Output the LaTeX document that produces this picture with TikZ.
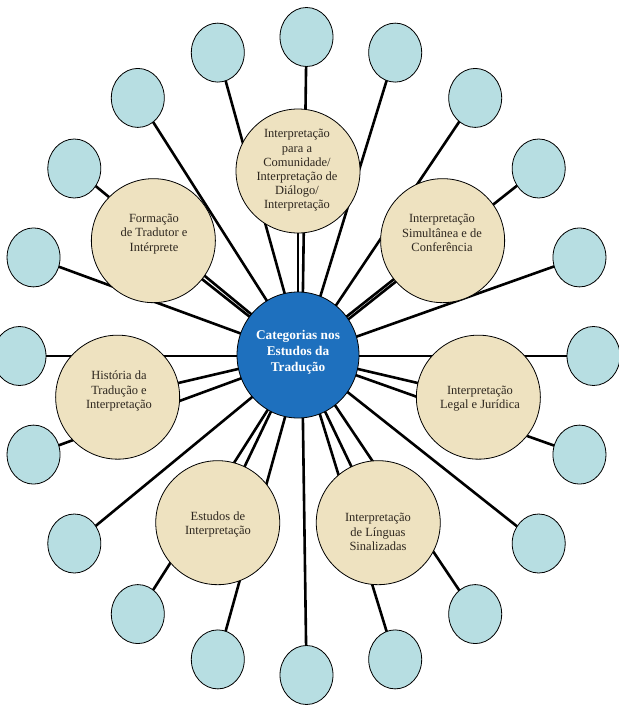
\documentclass[tikz,border=0pt]{standalone}
\usepackage{fontspec}
\setmainfont{Liberation Serif}
\usetikzlibrary{backgrounds,shapes.geometric}
\definecolor{hubblue}{RGB}{30,112,190}
\definecolor{leafblue}{RGB}{183,222,226}
\definecolor{parch}{RGB}{238,226,192}
\definecolor{inkc}{RGB}{45,38,30}
\tikzset{
  leaf/.style={ellipse, draw=black, line width=0.8pt, fill=leafblue, minimum width=53pt, minimum height=59pt, inner sep=0pt},
  cat/.style={circle, draw=black, line width=0.8pt, fill=parch, minimum size=124pt, inner sep=0pt},
  hubnode/.style={ellipse, draw=black, line width=0.8pt, fill=hubblue, minimum width=122pt, minimum height=126pt, inner sep=0pt},
  cattext/.style={align=center, font=\fontsize{12.5}{14.2}\selectfont, text=inkc, inner sep=0pt},
  hubtext/.style={align=center, font=\fontsize{13.3}{15.8}\selectfont\bfseries, text=white, inner sep=0pt},
  spoke/.style={line width=2.6pt, draw=black},
}
\begin{document}
\begin{tikzpicture}[x=1pt,y=-1pt]
\useasboundingbox (0,0) rectangle (618,706);
% hub of the small-circle spokes
\coordinate (hub) at (302,356);
% central circle
\node[hubnode] (center) at (298,355) {};
% small circles
\foreach \k in {0,...,19}{
  \pgfmathsetmacro{\a}{18*\k}
  \node[leaf] (s\k) at ({306.5+287*sin(\a)},{356-319*cos(\a)}) {};
}
% category circles
\foreach \k in {0,...,6}{
  \pgfmathsetmacro{\a}{90+\k*360/7}
  \node[cat] (c\k) at ({298+185*cos(\a)},{356-185*sin(\a)}) {};
}
% texts
\node[hubtext] (tc) at (298,352) {Categorias nos\\Estudos da\\Tradução};
\node[cattext] (t0) at (297,170.5) {Interpretação\\para a\\Comunidade/\\Interpretação de\\Diálogo/\\Interpretação};
\node[cattext] (t1) at (154,234) {Formação\\de Tradutor e\\Intérprete};
\node[cattext] (t2) at (119,391) {História da\\Tradução e\\Interpretação};
\node[cattext] (t3) at (218,524.5) {Estudos de\\Interpretação};
\node[cattext] (t4) at (378,532) {Interpretação\\de Línguas\\Sinalizadas};
\node[cattext] (t5) at (480,398.5) {Interpretação\\Legal e Jurídica};
\node[cattext] (t6) at (442,233) {Interpretação\\Simultânea e de\\Conferência};
% spokes behind everything
\begin{scope}[on background layer]
  \fill[white] (0,0) rectangle (618,706);
  \foreach \k in {0,...,19}{
    \draw[spoke] (hub) -- (s\k.center);
  }
  \foreach \k in {0,...,6}{
    \draw[spoke] (center.center) -- (c\k.center);
  }
\end{scope}
\end{tikzpicture}
\end{document}
